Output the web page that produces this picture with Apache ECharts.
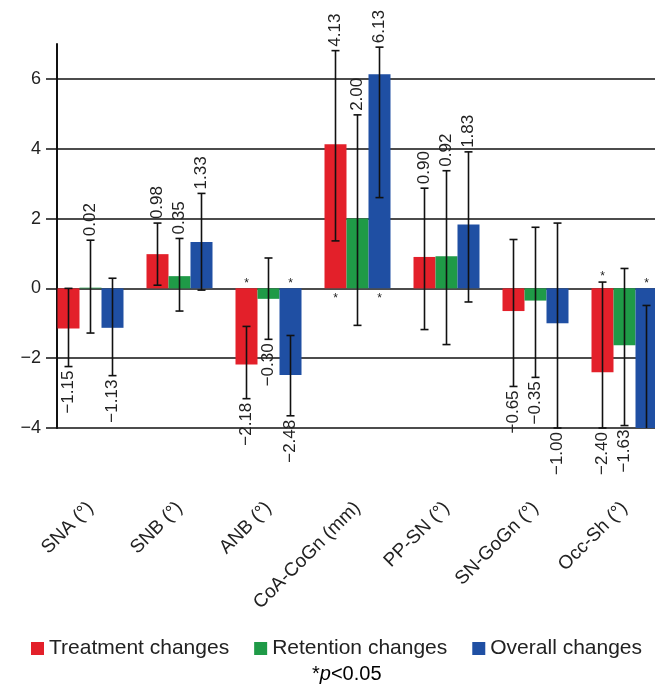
<!DOCTYPE html>
<html>
<head>
<meta charset="utf-8">
<script src="https://cdn.jsdelivr.net/npm/echarts@6/dist/echarts.min.js"></script>
<style>
html,body{margin:0;padding:0;background:#fff;overflow:hidden;width:655px;height:698px;}
#chart{width:669px;height:698px;}
</style>
</head>
<body>
<div id="chart"></div>
<script>
// ---- data ----
var categories = ['SNA (°)', 'SNB (°)', 'ANB (°)', 'CoA-CoGn (mm)', 'PP-SN (°)', 'SN-GoGn (°)', 'Occ-Sh (°)'];
var seriesNames = ['Treatment changes', 'Retention changes', 'Overall changes'];

var treatment = [-1.15, 0.98, -2.18, 4.13, 0.90, -0.65, -2.40];
var retention = [0.02, 0.35, -0.30, 2.00, 0.92, -0.35, -1.63];
var overall   = [-1.13, 1.33, -2.48, 6.13, 1.83, -1.00, -4.03];

var treatmentLow  = [-2.24, 0.09, -3.16, 1.36, -1.18, -2.81, -4.00];
var treatmentHigh = [0.00, 1.87, -1.09, 6.81, 2.87, 1.40, 0.18];
var retentionLow  = [-1.28, -0.65, -1.46, -1.06, -1.61, -2.55, -3.93];
var retentionHigh = [1.38, 1.43, 0.87, 4.97, 3.37, 1.75, 0.57];
var overallLow    = [-2.50, -0.05, -3.65, 2.60, -0.39, -4.00, -4.00];
var overallHigh   = [0.29, 2.72, -1.35, 6.91, 3.91, 1.87, -0.49];

var treatmentSig = ['', '', '*', '*', '', '', '*'];
var retentionSig = ['', '', '', '', '', '', ''];
var overallSig   = ['', '', '*', '*', '', '', '*'];

var yTicks = [-4, -2, 0, 2, 4, 6];
var yMin = -4, yMax = 7;

// ---- build ----
var colors = ['#e3202a', '#1f9a47', '#1f4fa3'];
var values = [treatment, retention, overall];
var lows = [treatmentLow, retentionLow, overallLow];
var highs = [treatmentHigh, retentionHigh, overallHigh];
var sigs = [treatmentSig, retentionSig, overallSig];
var BAR_W = 22;
var FONT = 'Liberation Sans, Arial, sans-serif';

function fmt(v) { return v.toFixed(2).replace('-', '\u2212'); }

var errData = [], errMeta = [];
for (var s = 0; s < 3; s++) {
  for (var i = 0; i < categories.length; i++) {
    errData.push([i, s, values[s][i], lows[s][i], highs[s][i]]);
    // a bar running past the axis minimum has its label off the picture
    errMeta.push({ label: values[s][i] < yMin ? '' : fmt(values[s][i]), sig: sigs[s][i], clipped: values[s][i] < yMin });
  }
}

var series = [];
for (var k = 0; k < 3; k++) {
  series.push({
    name: seriesNames[k],
    type: 'bar',
    data: values[k],
    barWidth: BAR_W,
    barGap: '0%',
    itemStyle: { color: colors[k] },
    z: 2
  });
}
series.push({
  type: 'custom',
  name: 'err',
  z: 5,
  data: errData,
  encode: { x: 0, y: [3, 4] },
  renderItem: function (params, api) {
    var cat = api.value(0), s = api.value(1), v = api.value(2), lo = api.value(3), hi = api.value(4);
    var base = api.coord([cat, 0]);
    var x = base[0] + (s - 1) * BAR_W;
    var y0 = base[1];
    var yLo = api.coord([cat, lo])[1];
    var yHi = api.coord([cat, hi])[1];
    var meta = errMeta[params.dataIndex];
    var ls = { stroke: '#111', lineWidth: 1.6 };
    var children = [
      { type: 'line', shape: { x1: x, y1: yHi, x2: x, y2: yLo }, style: ls },
      { type: 'line', shape: { x1: x - 4, y1: yHi, x2: x + 4, y2: yHi }, style: ls }
    ];
    if (!meta.clipped) {
      children.push({ type: 'line', shape: { x1: x - 4, y1: yLo, x2: x + 4, y2: yLo }, style: ls });
    }
    if (meta.label) {
      if (v >= 0) {
        children.push({ type: 'text', x: x, y: yHi - 4, rotation: Math.PI / 2,
          style: { text: meta.label, align: 'left', verticalAlign: 'middle', font: '17px ' + FONT, fill: '#222' } });
      } else {
        children.push({ type: 'text', x: x, y: yLo + 4, rotation: Math.PI / 2,
          style: { text: meta.label, align: 'right', verticalAlign: 'middle', font: '17px ' + FONT, fill: '#222' } });
      }
    }
    if (meta.sig) {
      var ys = v < 0 ? Math.min(y0, yHi) - 5 : Math.max(y0, yLo) + 10;
      children.push({ type: 'text', x: x, y: ys,
        style: { text: meta.sig, align: 'center', verticalAlign: 'middle', font: '12px ' + FONT, fill: '#222' } });
    }
    return { type: 'group', children: children };
  }
});

var chart = echarts.init(document.getElementById('chart'), null, { renderer: 'canvas' });
chart.setOption({
  backgroundColor: '#fff',
  animation: false,
  grid: { left: 46, right: 0, top: 44, bottom: 270, containLabel: false },
  legend: {
    data: seriesNames,
    left: 26, top: 633,
    itemWidth: 13, itemHeight: 13, itemGap: 25,
    icon: 'rect',
    selectedMode: false,
    textStyle: { fontFamily: FONT, fontSize: 21, color: '#222' }
  },
  graphic: [{
    type: 'text',
    left: 312, top: 664,
    style: {
      text: '{a|*}{p|p}{a|<0.05}',
      rich: {
        a: { fontFamily: FONT, fontSize: 20, color: '#222' },
        p: { fontFamily: FONT, fontSize: 20, fontStyle: 'italic', color: '#222' }
      }
    }
  }],
  xAxis: {
    type: 'category',
    data: categories,
    axisLine: { show: false, onZero: false },
    axisTick: { show: false },
    splitLine: { show: false },
    axisLabel: { interval: 0, rotate: 45, margin: 77, fontFamily: FONT, fontSize: 19, color: '#222' }
  },
  yAxis: {
    type: 'value',
    min: yMin, max: yMax, interval: 2,
    offset: -11,
    axisLine: { show: true, lineStyle: { color: '#111', width: 2 } },
    axisTick: { show: false },
    splitLine: { show: true, showMaxLine: false, lineStyle: { color: '#111', width: 1.6 } },
    axisLabel: {
      margin: 16, fontFamily: FONT, fontSize: 18, color: '#222', showMaxLabel: false,
      formatter: function (v) { return yTicks.indexOf(v) >= 0 ? String(v).replace('-', '\u2212') : ''; }
    }
  },
  series: series
});
</script>
</body>
</html>
